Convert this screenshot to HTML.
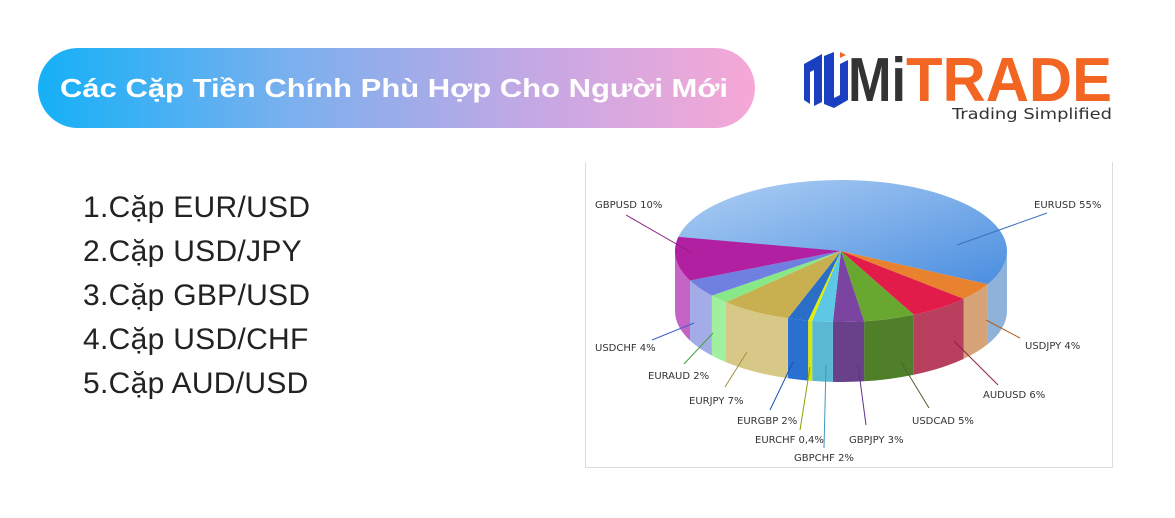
<!DOCTYPE html>
<html><head><meta charset="utf-8">
<style>
body{margin:0;width:1175px;height:518px;background:#fff;overflow:hidden;position:relative;font-family:"Liberation Sans",sans-serif}
.pill{position:absolute;left:38px;top:48px;width:717px;height:80px;border-radius:40px;background:linear-gradient(90deg,#14b0f7 0%,#7ab0ee 35%,#c6a8e4 70%,#f6a8d6 100%)}
.list{position:absolute;left:83px;top:186px;font-size:30px;color:#222;line-height:44px;letter-spacing:0.3px}
.chart{position:absolute;left:585px;top:162px;width:526px;height:305px;border:1px solid #ddd;border-top:none}
</style></head><body>
<div class="pill"><svg width="717" height="80"><text x="22" y="49" font-size="26" font-weight="bold" fill="#fff" font-family="Liberation Sans" textLength="668" lengthAdjust="spacingAndGlyphs">Các Cặp Tiền Chính Phù Hợp Cho Người Mới</text></svg></div>
<div class="list">1.Cặp EUR/USD<br>2.Cặp USD/JPY<br>3.Cặp GBP/USD<br>4.Cặp USD/CHF<br>5.Cặp AUD/USD</div>
<svg style="position:absolute;left:800px;top:50px" width="320" height="75">
<path d="M4 14 L22 4 L22 52 L14 56 L14 20 L10 22 L10 54 L4 50Z" fill="#1a3fc0"/>
<path d="M24 6 L34 2 L34 48 L40 45 L40 14 L48 10 L48 50 L34 58 L24 54Z" fill="#1a3fc0"/>
<path d="M40 8 L46 5 L40 2Z" fill="#f26522"/>
<text x="48" y="51" font-size="62" font-weight="bold" fill="#333" font-family="Liberation Sans" textLength="58" lengthAdjust="spacingAndGlyphs">Mi</text>
<text x="106" y="51" font-size="62" font-weight="bold" fill="#f26522" font-family="Liberation Sans" textLength="206" lengthAdjust="spacingAndGlyphs">TRADE</text>
<text x="152" y="69" font-size="15" fill="#333" font-family="DejaVu Sans" textLength="160" lengthAdjust="spacingAndGlyphs">Trading Simplified</text>
</svg>
<div class="chart"></div>
<svg id="pie" style="position:absolute;left:0;top:0" width="1175" height="518"></svg>
<script>
var cx=841,cy=251,rx=166,ry=71,d=60;
var s=[["EURUSD 55%",55,"#5b9ee6","#8fb2d8"],["USDJPY 4%",4,"#e8822e","#d6a478"],["AUDUSD 6%",6,"#e21c4a","#b8405e"],["USDCAD 5%",5,"#68a830","#4f7f28"],["GBPJPY 3%",3,"#7a44a0","#69408a"],["GBPCHF 2%",2,"#5cc8e6","#5ab8d2"],["EURCHF 0,4%",0.4,"#e0f000","#d8e800"],["EURGBP 2%",2,"#2a6ec8","#2a70d0"],["EURJPY 7%",7,"#c8b050","#d8c888"],["EURAUD 2%",2,"#88e888","#a0f0a0"],["USDCHF 4%",4,"#7080e0","#a4ace8"],["GBPUSD 10%",10,"#b020a0","#c464c4"]];
function P(t,dy){t=t*Math.PI/180;return (cx+rx*Math.cos(t)).toFixed(1)+","+(cy+dy+ry*Math.sin(t)).toFixed(1)}
var h='<defs><linearGradient id="g" x1="0" y1="0" x2="1" y2="1"><stop offset="0" stop-color="#b0d0f4"/><stop offset="1" stop-color="#4a8ee0"/></linearGradient></defs>';
var a=190,sides='',tops='';
s.forEach(function(x,i){var b=a+x[1]*3.6;
 for(var k=0;k<2;k++){var lo=Math.max(a,k*360),hi=Math.min(b,180+k*360);
  if(hi>lo){sides+='<path d="M'+P(lo,0)+' A'+rx+','+ry+' 0 0,1 '+P(hi,0)+' L'+P(hi,d)+' A'+rx+','+ry+' 0 0,0 '+P(lo,d)+'Z" fill="'+x[3]+'"/>';}}
 tops+='<path d="M'+cx+','+cy+' L'+P(a,0)+' A'+rx+','+ry+' 0 '+((b-a)>180?1:0)+',1 '+P(b,0)+'Z" fill="'+(i==0?'url(#g)':x[2])+'"/>';
 a=b;});
var L=[["GBPUSD 10%",595,208,626,215,692,253,"#8a2080"],["EURUSD 55%",1034,208,1047,213,957,245,"#3a70c0"],["USDCHF 4%",595,351,652,340,694,323,"#4060d0"],["EURAUD 2%",648,379,684,364,713,333,"#40a040"],["EURJPY 7%",689,404,725,387,747,352,"#a09040"],["EURGBP 2%",737,424,770,410,793,362,"#1a50b0"],["EURCHF 0,4%",755,443,800,430,810,367,"#90a000"],["GBPCHF 2%",794,461,824,448,826,365,"#4098c0"],["GBPJPY 3%",849,443,866,425,858,365,"#603090"],["USDCAD 5%",912,424,929,408,901,362,"#506030"],["AUDUSD 6%",983,398,998,385,954,341,"#902040"],["USDJPY 4%",1025,349,1020,338,986,320,"#b06020"]];
var lab='';L.forEach(function(l){lab+='<line x1="'+l[3]+'" y1="'+l[4]+'" x2="'+l[5]+'" y2="'+l[6]+'" stroke="'+l[7]+'" stroke-width="1"/><text x="'+l[1]+'" y="'+l[2]+'" font-size="10" fill="#333" font-family="DejaVu Sans">'+l[0]+'</text>';});
document.getElementById('pie').innerHTML=h+sides+tops+lab;
</script>
</body></html>
